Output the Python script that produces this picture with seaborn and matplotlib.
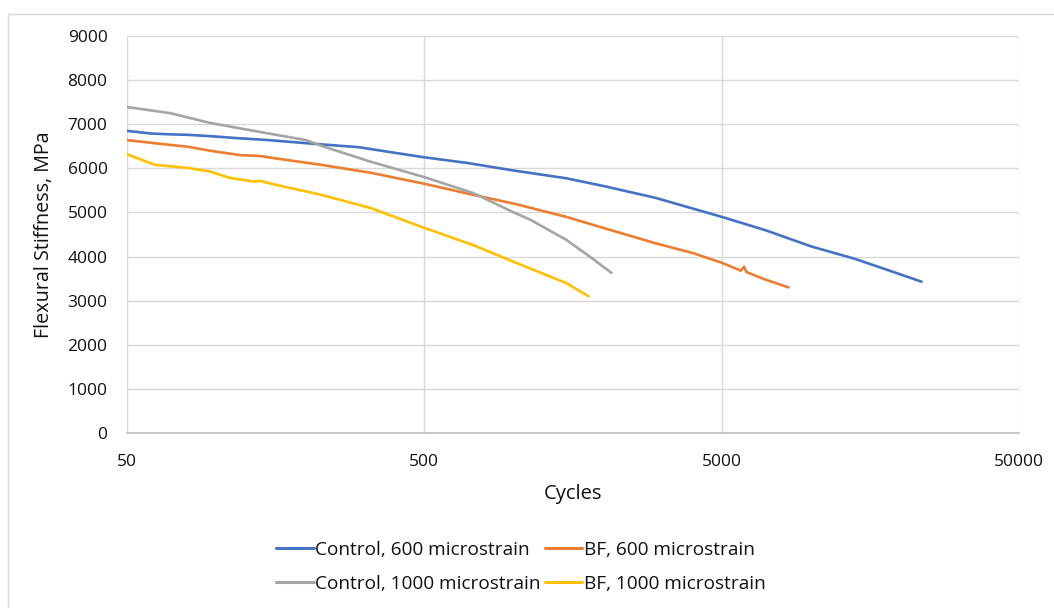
import numpy as np
import pandas as pd
import matplotlib
matplotlib.use("Agg")
import matplotlib.pyplot as plt
import seaborn as sns
from matplotlib.patches import Rectangle
from matplotlib.lines import Line2D
from matplotlib.ticker import FixedLocator, FixedFormatter, NullLocator

# ---- data ----
ctrl600_cycles = [50, 60, 70, 80, 100, 120, 150, 200, 250, 300, 400, 500, 700, 1000,
                  1500, 2000, 3000, 5000, 7000, 10000, 14000, 18000, 23500]
ctrl600_stiff = [6850, 6790, 6770, 6760, 6720, 6680, 6640, 6570, 6520, 6480, 6350, 6250,
                 6120, 5950, 5775, 5600, 5330, 4900, 4600, 4230, 3950, 3700, 3430]

bf600_cycles = [50, 60, 70, 80, 95, 120, 140, 160, 225, 330, 500, 730, 1000, 1500, 2000,
                3000, 4000, 5000, 5800, 5950, 6050, 7000, 8400]
bf600_stiff = [6640, 6580, 6530, 6490, 6400, 6300, 6280, 6220, 6080, 5900, 5650, 5400,
               5200, 4900, 4650, 4300, 4080, 3860, 3680, 3770, 3650, 3480, 3300]

ctrl1000_cycles = [50, 70, 95, 140, 200, 230, 330, 500, 730, 1000, 1140, 1500, 1800, 2130]
ctrl1000_stiff = [7390, 7250, 7030, 6825, 6640, 6490, 6150, 5800, 5440, 5000, 4830, 4380,
                  4000, 3630]

bf1000_cycles = [50, 62, 80, 95, 110, 133, 140, 160, 225, 330, 500, 730, 1000, 1500, 1785]
bf1000_stiff = [6320, 6080, 6010, 5930, 5790, 5700, 5715, 5620, 5400, 5100, 4650, 4260,
                3880, 3400, 3100]

series_names = ["Control, 600 microstrain", "BF, 600 microstrain",
                "Control, 1000 microstrain", "BF, 1000 microstrain"]
series_colors = ["#4472C4", "#ED7D31", "#A5A5A5", "#FFC000"]

x_ticks = [50, 500, 5000, 50000]
x_tick_labels = ["50", "500", "5000", "50000"]
y_ticks = list(range(0, 9001, 1000))

frames = []
for name, cx, cy in zip(series_names,
                        [ctrl600_cycles, bf600_cycles, ctrl1000_cycles, bf1000_cycles],
                        [ctrl600_stiff, bf600_stiff, ctrl1000_stiff, bf1000_stiff]):
    frames.append(pd.DataFrame({"Cycles": cx, "Stiffness": cy, "Series": name}))
df = pd.concat(frames, ignore_index=True)

# ---- plot ----
sns.set_theme(style="white")
plt.rcParams["font.family"] = ["Open Sans", "DejaVu Sans"]
plt.rcParams["text.color"] = "#111111"
plt.rcParams["axes.labelcolor"] = "#111111"

fig = plt.figure(figsize=(10.54, 6.08), dpi=100)
ax = fig.add_axes([127/1054, 1-433/608, (1019-127)/1054, (433-36)/608])

sns.lineplot(data=df, x="Cycles", y="Stiffness", hue="Series",
             hue_order=series_names, palette=series_colors, sort=False,
             estimator=None, linewidth=1.9, ax=ax, legend=False)

ax.set_xscale("log")
ax.set_xlim(50, 50000)
ax.set_ylim(0, 9000)
ax.xaxis.set_major_locator(FixedLocator(x_ticks))
ax.xaxis.set_major_formatter(FixedFormatter(x_tick_labels))
ax.xaxis.set_minor_locator(NullLocator())
ax.set_yticks(y_ticks)
ax.grid(True, color="#d9d9d9", linewidth=1.0)
ax.set_axisbelow(True)
for s in ["top", "right", "left"]:
    ax.spines[s].set_visible(False)
ax.spines["bottom"].set_color("#bfbfbf")
ax.spines["bottom"].set_linewidth(1.2)
ax.tick_params(axis="both", length=0, labelsize=12.5, colors="#111111")
ax.tick_params(axis="y", pad=14)
ax.tick_params(axis="x", pad=15)

ax.set_xlabel("Cycles", fontsize=14.5, labelpad=10)
ax.set_ylabel("Flexural Stiffness, MPa", fontsize=14.2, labelpad=10)

# legend: rows Control600/BF600, Control1000/BF1000
handles = {n: Line2D([0], [0], color=c, lw=2.2) for n, c in zip(series_names, series_colors)}
order = ["Control, 600 microstrain", "Control, 1000 microstrain",
         "BF, 600 microstrain", "BF, 1000 microstrain"]
fig.legend([handles[n] for n in order], order, loc="center",
           bbox_to_anchor=(521/1054, 1-567/608), ncol=2, frameon=False,
           fontsize=13.7, handlelength=1.95, handletextpad=0.1,
           columnspacing=0.2, labelspacing=0.85)

# outer chart border
fig.patches.append(Rectangle((8/1054, -0.1), 1.2, 0.1 + (1-14/608),
                             transform=fig.transFigure, fill=False,
                             edgecolor="#d9d9d9", linewidth=1.0))

fig.savefig("out.png", dpi=100)
